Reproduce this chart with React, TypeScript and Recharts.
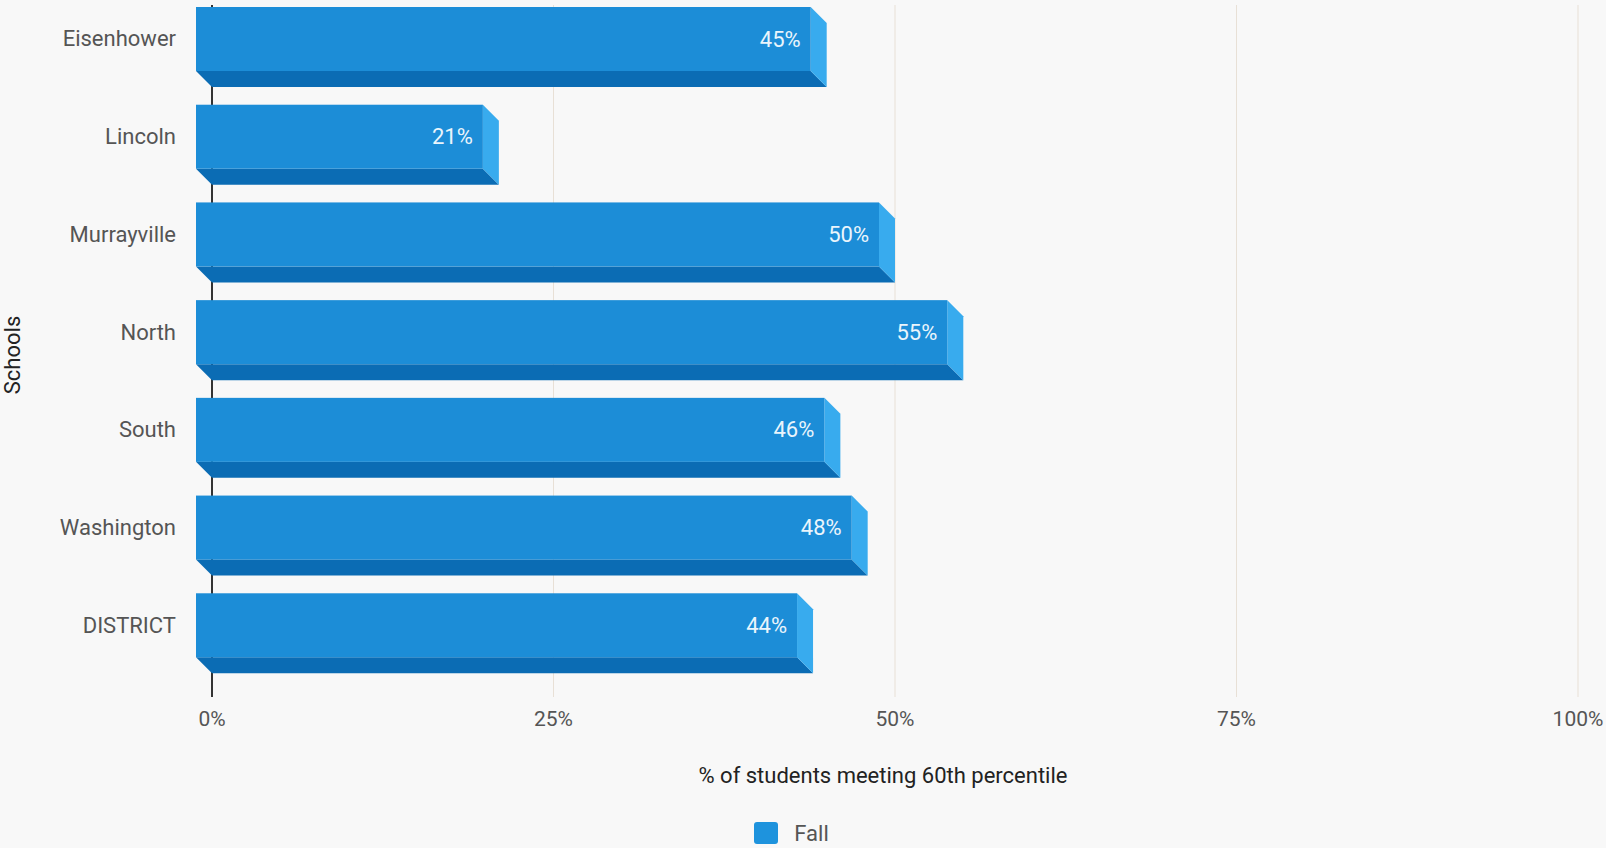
import { BarChart, Bar, XAxis, YAxis, CartesianGrid, LabelList, Legend } from 'recharts';

const schools = ['Eisenhower', 'Lincoln', 'Murrayville', 'North', 'South', 'Washington', 'DISTRICT'];
const fallValues = [45, 21, 50, 55, 46, 48, 44];
const xTicks = [0, 25, 50, 75, 100];

const data = schools.map((school, i) => ({ school, fall: fallValues[i] }));

const DEPTH = 16;
const FRONT = '#1c8dd7';
const BOTTOM = '#0b6cb4';
const SIDE = '#38abee';
const FONT = 'Roboto, "Noto Sans", sans-serif';

// bar drawn as a little box: back rect is the real value, front face shifted up-left
function Bar3D(props: any) {
  const { x, y, width, height } = props;
  if (!width || width <= 0) return null;
  const fx = x - DEPTH;
  const fy = y - DEPTH;
  const bottomFace = `${fx},${fy + height} ${fx + width},${fy + height} ${x + width},${y + height} ${x},${y + height}`;
  const sideFace = `${fx + width},${fy} ${x + width},${y} ${x + width},${y + height} ${fx + width},${fy + height}`;
  return (
    <g>
      <polygon points={bottomFace} fill={BOTTOM} />
      <polygon points={sideFace} fill={SIDE} />
      <rect x={fx} y={fy} width={width} height={height} fill={FRONT} />
    </g>
  );
}

const renderValue = (props: any) => {
  const { x, y, width, height, value } = props;
  return (
    <text
      x={x + width - DEPTH - 10}
      y={y + height / 2 - DEPTH}
      textAnchor="end"
      dominantBaseline="central"
      fill="#eaf5fc"
      fontSize={22}
      fontFamily={FONT}
    >
      {value}%
    </text>
  );
};

const SchoolTick = ({ x, y, payload }: any) => (
  <text x={x} y={y - DEPTH} textAnchor="end" dominantBaseline="central" fill="#555" fontSize={22} fontFamily={FONT}>
    {payload.value}
  </text>
);

const SchoolsLabel = ({ viewBox }: any) => {
  const cy = viewBox.y + viewBox.height / 2 + 4;
  return (
    <text
      x={12}
      y={cy}
      transform={`rotate(-90, 12, ${cy})`}
      textAnchor="middle"
      dominantBaseline="central"
      fill="#222"
      fontSize={22}
      fontFamily={FONT}
    >
      Schools
    </text>
  );
};

const AxisTitle = ({ viewBox }: any) => (
  <text
    x={883}
    y={viewBox.y + 78}
    textAnchor="middle"
    dominantBaseline="central"
    fill="#222"
    fontSize={22}
    fontFamily={FONT}
  >
    % of students meeting 60th percentile
  </text>
);

// grid line at 0 doubles as the y axis line so it stays behind the bars
const GridLine = (p: any) => {
  const isAxis = p.index === 0;
  return (
    <line
      key={p.key}
      x1={p.x1}
      y1={p.y1}
      x2={p.x2}
      y2={p.y2}
      stroke={isAxis ? '#333' : '#e8e0d6'}
      strokeWidth={isAxis ? 2 : 1}
    />
  );
};

const LegendContent = () => (
  <div style={{ height: 30, display: 'flex', alignItems: 'center', justifyContent: 'center', fontFamily: FONT }}>
    <div style={{ display: 'flex', alignItems: 'center', marginLeft: 5 }}>
      <div style={{ width: 24, height: 22, background: '#1e93dd', borderRadius: 3, marginRight: 16 }} />
      <span style={{ color: '#555', fontSize: 22 }}>Fall</span>
    </div>
  </div>
);

export default function App() {
  return (
    <div style={{ position: 'absolute', left: 0, top: 0, width: 1606, height: 848, background: '#f8f8f8' }}>
      <BarChart
        width={1606}
        height={848}
        data={data}
        layout="vertical"
        margin={{ top: 5, right: 28, left: 0, bottom: 0 }}
        barSize={64}
      >
        <CartesianGrid horizontal={false} vertical={GridLine} />
        <XAxis
          type="number"
          domain={[0, 100]}
          ticks={xTicks}
          tickFormatter={(v) => `${v}%`}
          axisLine={false}
          tickLine={false}
          tickMargin={8}
          height={121}
          tick={{ fill: '#555', fontSize: 21, fontFamily: FONT }}
          label={<AxisTitle />}
        />
        <YAxis
          type="category"
          dataKey="school"
          width={212}
          padding={{ top: 1, bottom: 7 }}
          axisLine={false}
          tickLine={false}
          tickSize={6}
          tickMargin={30}
          tick={<SchoolTick />}
          label={<SchoolsLabel />}
        />
        <Legend verticalAlign="bottom" content={<LegendContent />} />
        <Bar dataKey="fall" name="Fall" fill={FRONT} shape={<Bar3D />} isAnimationActive={false}>
          <LabelList dataKey="fall" content={renderValue} />
        </Bar>
      </BarChart>
    </div>
  );
}
